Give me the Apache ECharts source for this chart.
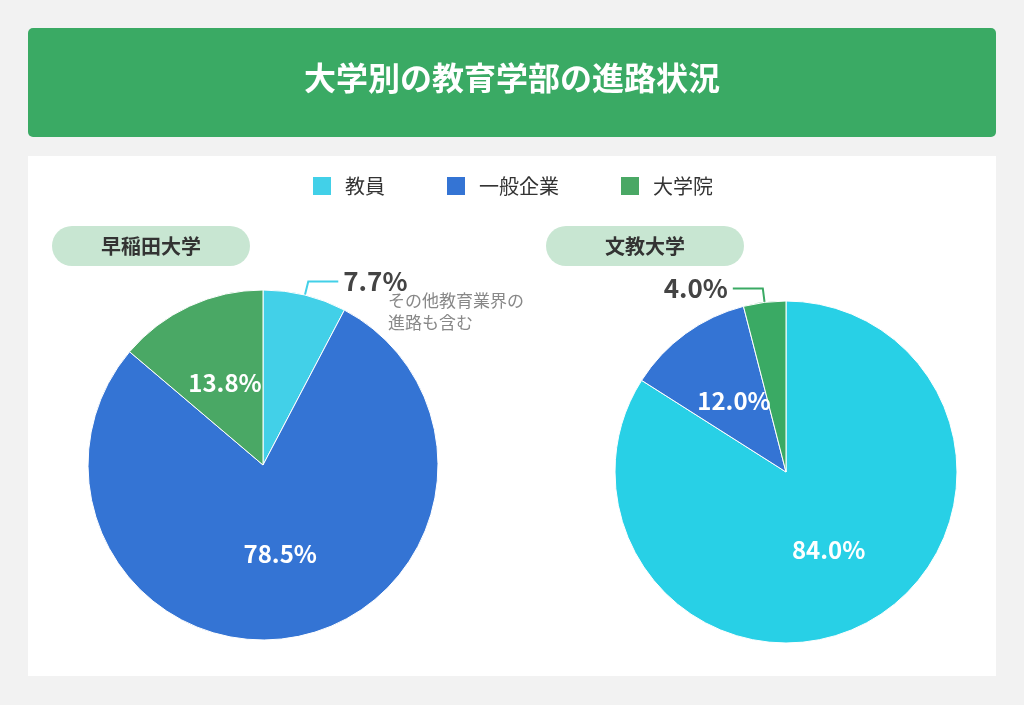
<!DOCTYPE html>
<html><head><meta charset="utf-8">
<script src="https://cdn.jsdelivr.net/npm/echarts@6/dist/echarts.min.js"></script>
<style>body{margin:0;background:#f2f2f2}#c{width:1024px;height:705px}</style>
</head><body><div id="c"></div>
<script>
var categories = ['教員', '一般企業', '大学院'];
var waseda = [7.7, 78.5, 13.8];
var bunkyo = [84.0, 12.0, 4.0];
var colorsA = ['#42d0e8', '#3474d4', '#4aa865'];
var colorsB = ['#28d0e6', '#3474d4', '#3aaa64'];
var font = '"Noto Sans CJK JP", "Noto Sans", sans-serif';

function makeData(vals, colors, outsideIdx) {
    return vals.map(function(v, i) {
        var d = { name: categories[i], value: v, itemStyle: { color: colors[i] } };
        if (i === outsideIdx) {
            d.label = { position: 'outside', color: '#444', fontSize: 26 };
            d.labelLine = { show: true, length: 14, length2: 30, lineStyle: { color: colors[i], width: 2 } };
        }
        return d;
    });
}

var chart = echarts.init(document.getElementById('c'));
var pieBase = {
    type: 'pie', startAngle: 90, clockwise: true,
    itemStyle: { borderColor: '#fff', borderWidth: 1 },
    label: { position: 'inside', formatter: function(p) { return p.value.toFixed(1) + '%'; },
             color: '#fff', fontSize: 24, fontWeight: 'bold', fontFamily: font },
    labelLine: { show: false },
    emphasis: { disabled: true }
};
chart.setOption({
    backgroundColor: '#f2f2f2',
    textStyle: { fontFamily: font },
    legend: {
        data: categories, top: 170, left: 'center', itemWidth: 20, itemHeight: 20, itemGap: 60,
        icon: 'rect', textStyle: { fontSize: 20, color: '#333', padding: [0, 0, 0, 8] },
        itemStyle: {}
    },
    color: ['#2ad0e6', '#3474d4', '#3aaa64'],
    graphic: [
        { type: 'rect', z: -10, shape: { x: 28, y: 28, width: 968, height: 109, r: 5 }, style: { fill: '#3aaa64' } },
        { type: 'text', left: 'center', top: 62, style: { text: '大学別の教育学部の進路状況', fill: '#fff', font: 'bold 32px ' + font } },
        { type: 'rect', z: -10, shape: { x: 28, y: 156, width: 968, height: 520 }, style: { fill: '#fff' } },
        { type: 'rect', shape: { x: 52, y: 226, width: 198, height: 40, r: 20 }, style: { fill: '#c8e6d2' } },
        { type: 'text', x: 151, y: 246, style: { text: '早稲田大学', fill: '#333', font: 'bold 20px ' + font, align: 'center', verticalAlign: 'middle' } },
        { type: 'rect', shape: { x: 546, y: 226, width: 198, height: 40, r: 20 }, style: { fill: '#c8e6d2' } },
        { type: 'text', x: 645, y: 246, style: { text: '文教大学', fill: '#333', font: 'bold 20px ' + font, align: 'center', verticalAlign: 'middle' } },
        { type: 'text', x: 388, y: 290, style: { text: 'その他教育業界の\n進路も含む', fill: '#888', font: '17px ' + font, lineHeight: 22 } }
    ],
    series: [
        echarts.util.merge({ center: [263, 465], radius: 175, data: makeData(waseda, colorsA, 0) }, pieBase),
        echarts.util.merge({ center: [786, 472], radius: 171, data: makeData(bunkyo, colorsB, 2) }, pieBase)
    ]
});
</script></body></html>
